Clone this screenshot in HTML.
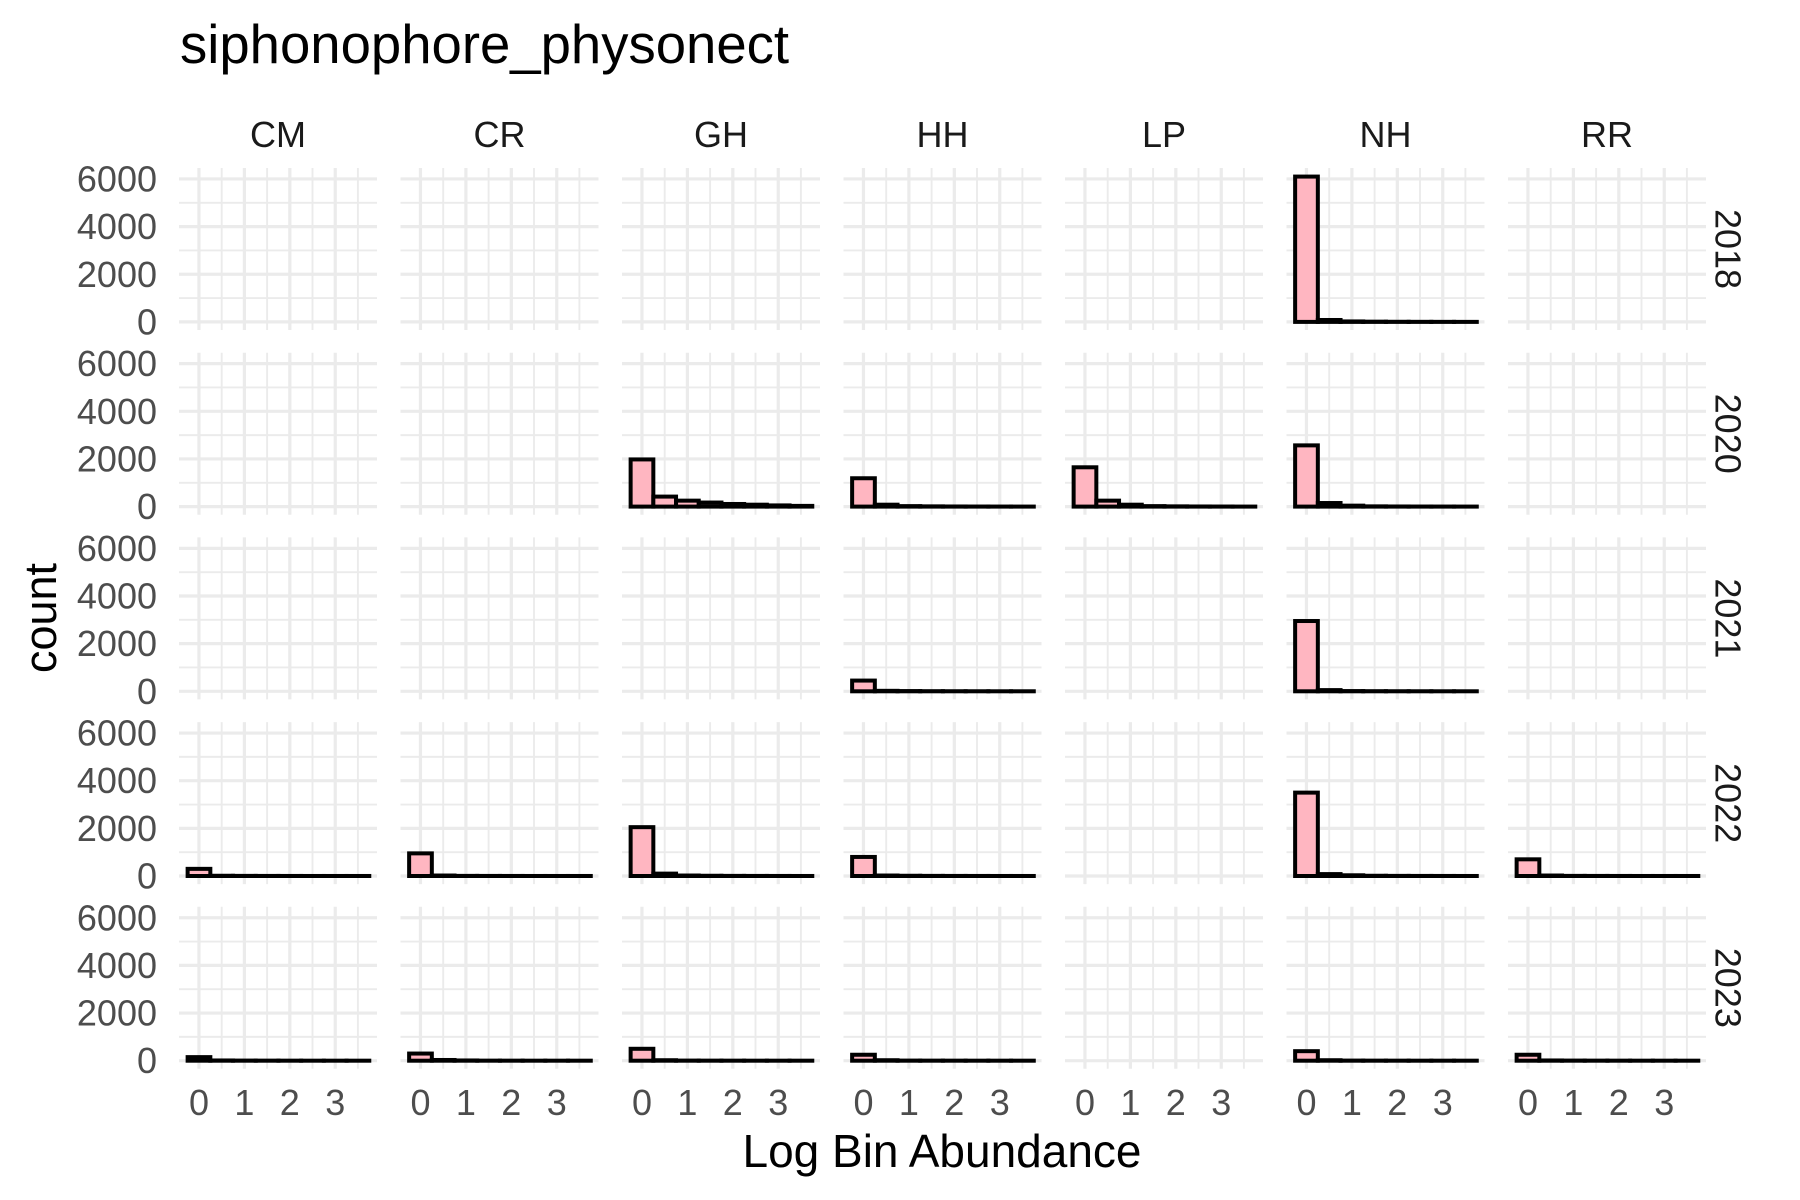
<!DOCTYPE html>
<html><head><meta charset="utf-8"><title>siphonophore_physonect</title>
<style>
html,body{margin:0;padding:0;background:#fff;}
svg{display:block;font-family:"Liberation Sans",Arial,sans-serif;}
</style></head>
<body>
<svg id="chart" width="1800" height="1200" viewBox="0 0 1800 1200" xmlns="http://www.w3.org/2000/svg">
<rect width="1800" height="1200" fill="#fff"/>
<text x="180" y="63" font-size="54.5" fill="#000">siphonophore_physonect</text>
<text x="942" y="1167" font-size="46" fill="#000" text-anchor="middle">Log Bin Abundance</text>
<text transform="translate(56,618) rotate(-90)" font-size="45" fill="#000" text-anchor="middle">count</text>
<g id="panels"></g>
</svg>
<script>
const sites = ["CM","CR","GH","HH","LP","NH","RR"];
const years = ["2018","2020","2021","2022","2023"];
const binCenters = [0,0.5,1,1.5,2,2.5,3,3.5];
const xTicks = [0,1,2,3];
const yTicks = [0,2000,4000,6000];
const countsNH2018 = [6100,80,20,10,5,3,2,1];
const countsGH2020 = [1980,420,250,170,110,80,50,30];
const countsHH2020 = [1190,80,20,10,5,3,2,1];
const countsLP2020 = [1650,250,80,20,10,5,3,1];
const countsNH2020 = [2570,150,40,10,5,3,2,1];
const countsHH2021 = [450,20,10,5,3,2,1,1];
const countsNH2021 = [2950,50,10,5,3,2,1,1];
const countsCM2022 = [300,10,5,3,2,1,1,1];
const countsCR2022 = [950,20,5,3,2,1,1,1];
const countsGH2022 = [2050,100,20,10,5,3,2,1];
const countsHH2022 = [800,20,10,5,3,2,1,1];
const countsNH2022 = [3500,80,30,10,5,3,2,1];
const countsRR2022 = [700,20,5,3,2,1,1,1];
const countsCM2023 = [150,10,5,3,2,1,1,1];
const countsCR2023 = [300,30,10,3,2,1,1,1];
const countsGH2023 = [500,20,5,3,2,1,1,1];
const countsHH2023 = [250,20,5,3,2,1,1,1];
const countsNH2023 = [400,20,5,3,2,1,1,1];
const countsRR2023 = [250,10,5,3,2,1,1,1];
const panelData = {
 "2018|NH":countsNH2018,
 "2020|GH":countsGH2020,"2020|HH":countsHH2020,"2020|LP":countsLP2020,"2020|NH":countsNH2020,
 "2021|HH":countsHH2021,"2021|NH":countsNH2021,
 "2022|CM":countsCM2022,"2022|CR":countsCR2022,"2022|GH":countsGH2022,"2022|HH":countsHH2022,"2022|NH":countsNH2022,"2022|RR":countsRR2022,
 "2023|CM":countsCM2023,"2023|CR":countsCR2023,"2023|GH":countsGH2023,"2023|HH":countsHH2023,"2023|NH":countsNH2023,"2023|RR":countsRR2023
};
const binWidth = 0.5;

const NS = "http://www.w3.org/2000/svg";
const root = document.getElementById("panels");
const P_LEFT = 179, P_STEP = 221.5, P_W = 198;
const P_TOP = 168, R_STEP = 184.7, P_H = 162;
const XMIN = -0.44, XMAX = 3.92;
const YMIN = -340, YMAX = 6460;
function mk(tag, attrs, parent){
  const e = document.createElementNS(NS, tag);
  for (const k in attrs) e.setAttribute(k, attrs[k]);
  parent.appendChild(e);
  return e;
}
sites.forEach((s, c) => {
  const px = P_LEFT + c*P_STEP;
  const st = mk("text", {x: px + P_W/2, y: 147, "font-size": 36, fill: "#1a1a1a", "text-anchor": "middle"}, root);
  
  
  st.textContent = s;
  xTicks.forEach(t => {
    const xx = px + (t - XMIN)/(XMAX - XMIN)*P_W;
    const tl = mk("text", {x: xx, y: 1115, "font-size": 36, fill: "#4d4d4d", "text-anchor": "middle"}, root);
    
    
    tl.textContent = t;
  });
});
years.forEach((y, r) => {
  const py = P_TOP + r*R_STEP;
  const yl = mk("text", {transform: `translate(1728,${py + P_H/2}) rotate(90)`, "font-size": 36, fill: "#1a1a1a", "text-anchor": "middle", "dominant-baseline": "central"}, root);
  
  
  yl.textContent = y;
  yTicks.forEach(t => {
    const yy = py + (YMAX - t)/(YMAX - YMIN)*P_H;
    const tl = mk("text", {x: 157, y: yy + 12.5, "font-size": 36, fill: "#4d4d4d", "text-anchor": "end"}, root);
    
    
    tl.textContent = t;
  });
  sites.forEach((s, c) => {
    const px = P_LEFT + c*P_STEP;
    const xs = v => px + (v - XMIN)/(XMAX - XMIN)*P_W;
    const ys = v => py + (YMAX - v)/(YMAX - YMIN)*P_H;
    const g = mk("g", {}, root);
    
    
    [1000,3000,5000].forEach(v => mk("line", {x1: px, x2: px+P_W, y1: ys(v), y2: ys(v), stroke: "#ebebeb", "stroke-width": 1.9}, g));
    [0.5,1.5,2.5,3.5].forEach(v => mk("line", {x1: xs(v), x2: xs(v), y1: py, y2: py+P_H, stroke: "#ebebeb", "stroke-width": 1.9}, g));
    yTicks.forEach(v => mk("line", {x1: px, x2: px+P_W, y1: ys(v), y2: ys(v), stroke: "#ebebeb", "stroke-width": 3.2}, g));
    xTicks.forEach(v => mk("line", {x1: xs(v), x2: xs(v), y1: py, y2: py+P_H, stroke: "#ebebeb", "stroke-width": 3.2}, g));
    const d = panelData[y + "|" + s];
    if (d) {
      d.forEach((cnt, i) => {
        const x0 = xs(binCenters[i] - binWidth/2), x1 = xs(binCenters[i] + binWidth/2);
        const b = mk("rect", {x: x0, y: ys(cnt), width: x1 - x0, height: ys(0) - ys(cnt), fill: "#ffb6c1", stroke: "#000", "stroke-width": 4}, g);
        
        
      });
    }
  });
});
</script>
</body></html>
